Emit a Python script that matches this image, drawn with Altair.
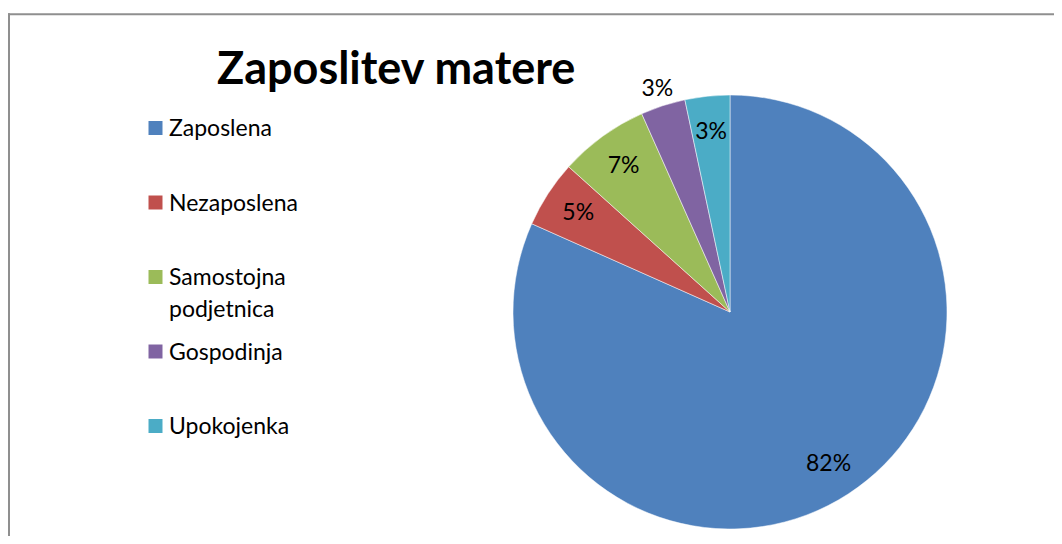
import altair as alt
import pandas as pd

# ---- data ----
categories = ["Zaposlena", "Nezaposlena", "Samostojna podjetnica", "Gospodinja", "Upokojenka"]
counts = [49, 3, 4, 2, 2]
colors = ["#4F81BD", "#C0504D", "#9BBB59", "#8064A2", "#4BACC6"]
title_text = "Zaposlitev matere"
outside_label = "Gospodinja"

df = pd.DataFrame({"cat": categories, "count": counts, "idx": list(range(len(categories)))})
frame_df = pd.DataFrame({"k": [0]})

FONT = "Lato"
W, H = 1046, 528
CX, CY = 722, 304

color_scale = alt.Scale(domain=categories, range=colors)
y_legend = alt.Y("cat:N", axis=None,
                 scale=alt.Scale(type="point", domain=categories, range=[120, 418], padding=0))

base = alt.Chart(df).transform_joinaggregate(total="sum(count)").transform_calculate(
    pct="datum.count / datum.total")

theta = alt.Theta("count:Q", stack=True)
order = alt.Order("idx:Q", sort="ascending")

pie = base.mark_arc(radius=217, stroke="white", strokeWidth=0.5).encode(
    theta=theta, order=order,
    color=alt.Color("cat:N", scale=color_scale, legend=None),
    x=alt.value(CX), y=alt.value(CY))

inside = base.mark_text(radius=181, font=FONT, fontSize=23, color="black").encode(
    theta=theta, order=order, detail="cat:N",
    text=alt.Text("pct:Q", format=".0%"),
    opacity=alt.condition(alt.datum.cat == outside_label, alt.value(0), alt.value(1)),
    x=alt.value(CX), y=alt.value(CY))

outside = base.mark_text(radius=235, font=FONT, fontSize=23, color="black").encode(
    theta=theta, order=order, detail="cat:N",
    text=alt.Text("pct:Q", format=".0%"),
    opacity=alt.condition(alt.datum.cat == outside_label, alt.value(1), alt.value(0)),
    x=alt.value(CX), y=alt.value(CY))

leg_sq = base.mark_square(size=196, opacity=1, strokeWidth=0).encode(
    x=alt.value(147.5), y=y_legend,
    color=alt.Color("cat:N", scale=color_scale, legend=None))

leg_tx = base.mark_text(align="left", baseline="alphabetic", dy=8, lineBreak=" ",
                        lineHeight=32, font=FONT, fontSize=23, color="black").encode(
    x=alt.value(161), y=y_legend, text="cat:N")

frame_top = alt.Chart(frame_df).mark_rule(color="#8f8f8f", strokeWidth=2).encode(
    x=alt.value(0), x2=alt.value(W), y=alt.value(6.3))
frame_left = alt.Chart(frame_df).mark_rule(color="#8f8f8f", strokeWidth=2).encode(
    x=alt.value(1), y=alt.value(5.3), y2=alt.value(H))

chart = alt.layer(frame_top, frame_left, pie, inside, outside, leg_sq, leg_tx).properties(
    width=W, height=H,
    autosize=alt.AutoSizeParams(type="none"),
    padding=0,
    title=alt.Title(title_text, anchor="start", frame="group", dx=209, dy=121, offset=0,
                    baseline="alphabetic", font=FONT, fontSize=45, fontWeight="bold",
                    color="black"),
).configure_view(strokeWidth=0)

chart.save("out.html", embed_options={"renderer": "svg", "actions": False})
